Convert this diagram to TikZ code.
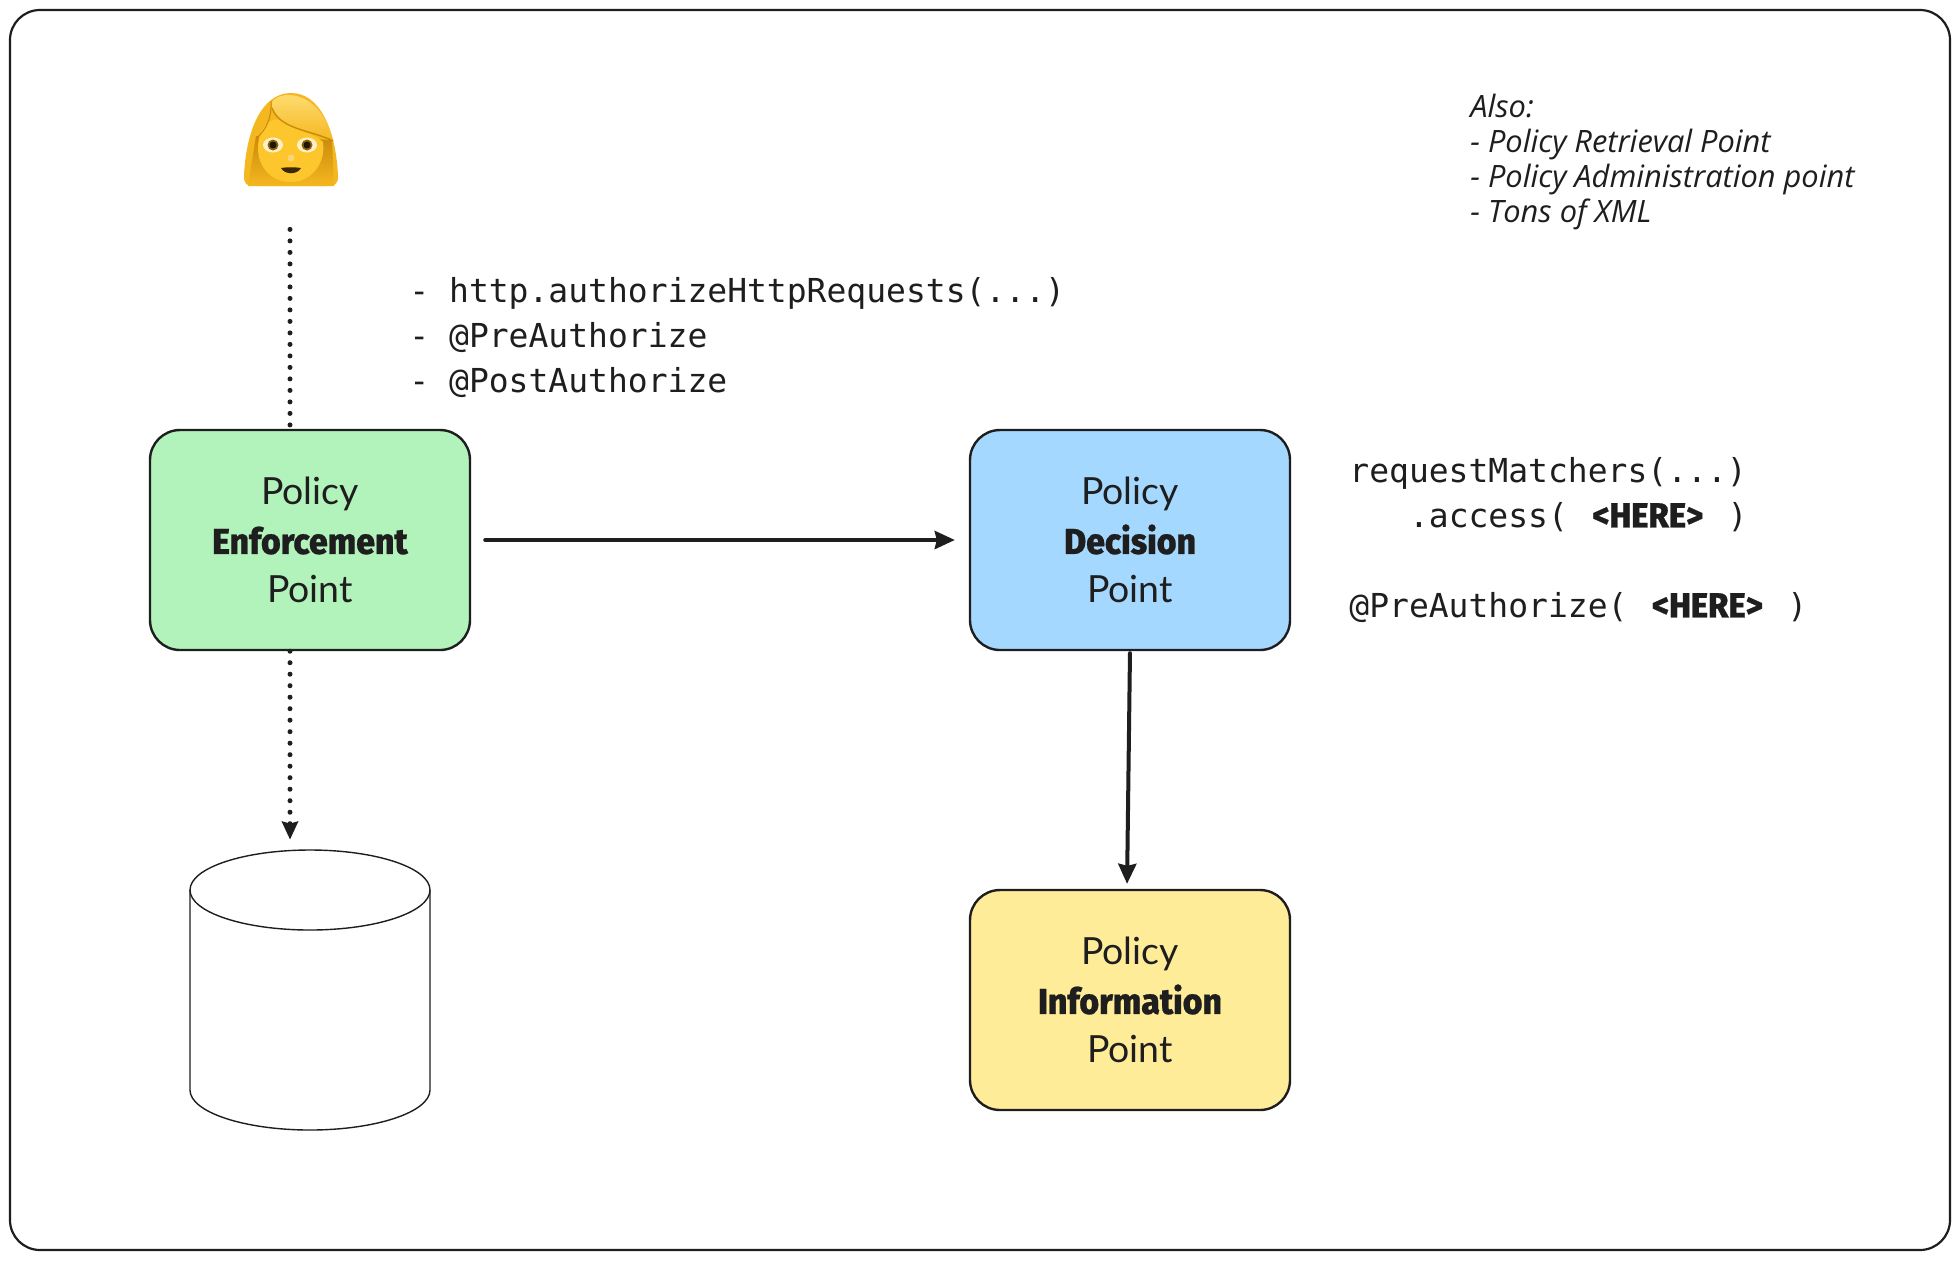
\documentclass[tikz,border=0pt]{standalone}
\usepackage{fontspec}
\setmainfont{Lato}
\newfontfamily\heavyfont[FakeStretch=0.94,FakeBold=0.6]{Fira Sans ExtraBold}
\newfontfamily\handfont{Open Sans Italic}
\setmonofont{DejaVu Sans Mono}
\usetikzlibrary{arrows.meta,positioning}
\definecolor{inkdark}{HTML}{1E1E1E}
\definecolor{enfgreen}{HTML}{B2F2BB}
\definecolor{decblue}{HTML}{A5D8FF}
\definecolor{infyellow}{HTML}{FFEC99}
\definecolor{hairgold}{HTML}{F5B71F}
\definecolor{hairdark}{HTML}{C98A0C}
\definecolor{hairlight}{HTML}{FFE07A}
\definecolor{facegold}{HTML}{FDC62C}
\newcommand{\heavy}[1]{{\heavyfont\fontsize{18}{24}\selectfont #1}}
\newcommand{\here}{\makebox[60pt][c]{\heavyfont\fontsize{17.5}{22.5}\selectfont <HERE>}}
\begin{document}
\begin{tikzpicture}[
  x=0.5pt, y=-0.5pt,
  policy/.style={draw=inkdark, line width=1.2pt, rounded corners=15pt, minimum width=160pt, minimum height=110pt,
    align=center, text=inkdark, font=\fontsize{18.7}{24}\selectfont},
  code/.style={anchor=north west, align=left, inner sep=0pt, text=inkdark, font=\ttfamily\fontsize{16.5}{22.5}\selectfont},
  flow/.style={draw=inkdark, line width=2pt, line cap=round, -{Stealth[length=10pt,width=9pt,inset=1pt]}},
  dots/.style={draw=inkdark, line width=2.5pt, line cap=round, dash pattern=on 0pt off 5.75pt},
  thinline/.style={draw=inkdark, line width=0.7pt},
]
  \useasboundingbox (0,0) rectangle (1960,1260);
  \fill[white] (0,0) rectangle (1960,1260);
  \draw[inkdark, line width=1.1pt, rounded corners=15pt] (10,10) rectangle (1950,1250);

  \node[minimum width=47pt, minimum height=47pt, inner sep=0pt] (user) at (290,140) {};
  \fill[hairgold] (244,176) .. controls (246,130) and (262,93) .. (291,93)
    .. controls (320,93) and (336,130) .. (338,176)
    .. controls (338,184) and (336,186) .. (325,186) -- (257,186)
    .. controls (246,186) and (244,184) .. (244,176) -- cycle;
  \shade[top color=hairdark, bottom color=hairgold] (256,136) -- (332,140) -- (334,186) -- (248,186) -- cycle;
  \fill[facegold] (258,148) .. controls (258,128) and (270,116) .. (282,120)
    .. controls (296,132) and (312,132) .. (323,142)
    .. controls (326,165) and (310,182) .. (291,182)
    .. controls (272,182) and (258,168) .. (258,148) -- cycle;
  \shade[top color=hairlight, bottom color=hairgold] (272,102) .. controls (282,88) and (322,92) .. (333,141)
    .. controls (312,130) and (280,130) .. (272,108) -- cycle;
  \draw[hairdark, line width=0.5pt] (271,101) .. controls (272,120) and (265,130) .. (257,138);
  \draw[hairdark, line width=0.7pt] (272,108) .. controls (280,130) and (312,130) .. (333,141);
  \fill[white!75!facegold] (273,145) ellipse (10 and 7.5);
  \fill[white!75!facegold] (307,145) ellipse (10 and 7.5);
  \fill[hairdark!70!black] (273,145) circle (5.5);
  \fill[hairdark!70!black] (307,145) circle (5.5);
  \fill[black!85!hairdark] (273,145) circle (3.5);
  \fill[black!85!hairdark] (307,145) circle (3.5);
  \fill[hairgold!60!white] (291,158) circle (3.5);
  \fill[black!70!hairdark] (281,168) .. controls (287,167) and (295,167) .. (301,168)
    .. controls (297,175) and (285,175) .. (281,168) -- cycle;

  \node[policy, fill=enfgreen] (enforce) at (310,540) {Policy\\[0.5pt]\heavy{Enforcement}\\[0.2pt]Point};
  \node[policy, fill=decblue] (decide) at (1130,540) {Policy\\[0.5pt]\heavy{Decision}\\[0.2pt]Point};
  \node[policy, fill=infyellow] (inform) at (1130,1000) {Policy\\[0.5pt]\heavy{Information}\\[0.2pt]Point};

  \node[minimum width=120pt, minimum height=140pt, inner sep=0pt] (store) at (310,990) {};
  \draw[thinline] (310,890) ellipse (120 and 40);
  \draw[thinline] (190,890) -- (190,1090) .. controls (190,1112) and (244,1130) .. (310,1130)
    .. controls (376,1130) and (430,1112) .. (430,1090) -- (430,890);

  \node[code] (filters) at (409,277) {- http.authorizeHttpRequests(...)\\- @PreAuthorize\\- @PostAuthorize};
  \node[code] (rules) at (1349,457) {requestMatchers(...)\\\phantom{123}.access( \here{} )\\[22.5pt]@PreAuthorize( \here{} )};
  \node[anchor=north west, align=left, inner sep=0pt, text=inkdark, font=\handfont\fontsize{15.4}{17.5}\selectfont] (also) at (1470,94) {Also:\\- Policy Retrieval Point\\- Policy Administration point\\- Tons of XML};

  \draw[dots] ([yshift=-21pt]user.south) -- (enforce.north -| user.south);
  \draw[dots, -{Stealth[length=9pt,width=8pt,inset=1pt]}, shorten >=5pt] (enforce.south -| user.south) -- (store.north -| user.south);
  \draw[flow, shorten <=7pt, shorten >=7pt] (enforce.east) -- (decide.west);
  \draw[flow, shorten <=1pt, shorten >=2.5pt] (decide.south) -- ([xshift=-1.5pt]inform.north);
\end{tikzpicture}
\end{document}
